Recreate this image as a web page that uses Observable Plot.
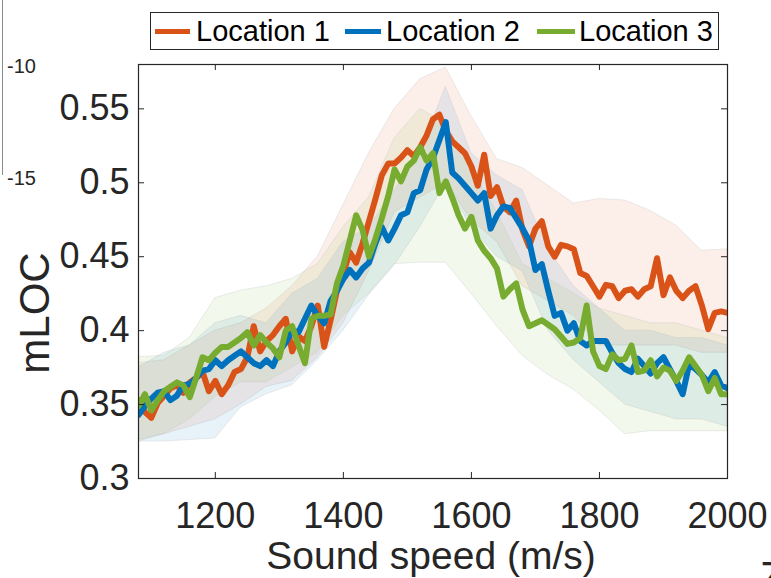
<!DOCTYPE html>
<html><head><meta charset="utf-8">
<script src="https://cdn.jsdelivr.net/npm/d3@7"></script>
<script src="https://cdn.jsdelivr.net/npm/@observablehq/plot@0.6"></script>
<style>
html,body{margin:0;padding:0;background:#fff;}
#wrap{position:relative;width:771px;height:578px;overflow:hidden;font-family:"Liberation Sans",Arial,sans-serif;color:#262626;}
#wrap svg{position:absolute;left:0;top:0;}
.abs{position:absolute;white-space:nowrap;}
.sw{position:absolute;height:5px;}
.lt{position:absolute;font-size:29px;line-height:29px;color:#000;white-space:nowrap;}
</style></head><body><div id="wrap"></div>
<script>
// ---------- data ----------
const names = ["Location 1", "Location 2", "Location 3"];
const colors = ["#D95319", "#0072BD", "#77AC30"];
const xTicks = [1200, 1400, 1600, 1800, 2000];
const yTicks = [0.3, 0.35, 0.4, 0.45, 0.5, 0.55];
const xLabel = "Sound speed (m/s)";
const yLabel = "mLOC";

const speeds = [1080,1090,1100,1110,1120,1130,1140,1150,1160,1170,
1180,1190,1200,1210,1220,1230,1240,1250,1260,1270,
1280,1290,1300,1310,1320,1330,1340,1350,1360,1370,
1380,1390,1400,1410,1420,1430,1440,1450,1460,1470,
1480,1490,1500,1510,1520,1530,1540,1550,1560,1570,
1580,1590,1600,1610,1620,1630,1640,1650,1660,1670,
1680,1690,1700,1710,1720,1730,1740,1750,1760,1770,
1780,1790,1800,1810,1820,1830,1840,1850,1860,1870,
1880,1890,1900,1910,1920,1930,1940,1950,1960,1970,
1980,1990,2000];

const loc1 = [.353,.345,.341,.351,.356,.361,.363,.358,.365,.368,
.372,.359,.366,.357,.363,.372,.374,.382,.403,.386,
.393,.397,.403,.408,.386,.396,.393,.403,.417,.389,
.407,.427,.439,.453,.446,.459,.474,.489,.505,.513,
.513,.517,.522,.518,.524,.532,.543,.546,.535,.528,
.524,.520,.511,.498,.519,.491,.497,.484,.480,.488,
.468,.457,.469,.474,.457,.450,.458,.457,.455,.439,
.437,.430,.423,.431,.430,.422,.427,.428,.423,.428,
.430,.449,.424,.436,.427,.422,.427,.430,.417,.401,
.412,.413,.412];

const loc2 = [.343,.349,.354,.358,.359,.353,.356,.363,.364,.368,
.373,.374,.380,.376,.380,.383,.386,.382,.378,.376,
.380,.376,.386,.392,.400,.399,.408,.417,.410,.405,
.420,.427,.435,.441,.436,.442,.446,.459,.470,.461,
.469,.478,.480,.493,.495,.509,.517,.529,.541,.507,
.503,.498,.493,.488,.493,.469,.478,.484,.483,.476,
.469,.461,.441,.445,.427,.410,.412,.400,.405,.393,
.390,.393,.393,.393,.385,.378,.374,.372,.381,.376,
.371,.378,.382,.374,.366,.357,.377,.374,.370,.365,
.372,.363,.361];

const loc3 = [.349,.357,.346,.353,.359,.362,.365,.363,.355,.368,
.382,.380,.385,.389,.389,.392,.395,.399,.390,.397,
.392,.388,.382,.400,.403,.390,.378,.408,.410,.410,
.411,.432,.444,.461,.478,.468,.450,.462,.476,.491,
.509,.501,.511,.515,.524,.515,.520,.493,.501,.490,
.478,.469,.477,.461,.454,.449,.442,.423,.428,.432,
.414,.403,.405,.407,.404,.401,.396,.391,.392,.395,
.417,.386,.376,.374,.384,.380,.381,.390,.372,.373,
.380,.369,.375,.373,.366,.373,.382,.376,.370,.359,
.368,.357,.357];

const bandSpeeds = [1080,1120,1160,1200,1240,1280,1320,1360,1400,1440,1480,1520,1560,1600,1640,1680,1720,1760,1800,1840,1880,1920,1960,2000];
const band1Upper = [.378,.380,.390,.400,.405,.415,.430,.450,.485,.520,.550,.570,.578,.545,.516,.510,.498,.486,.489,.488,.481,.471,.454,.455];
const band1Lower = [.326,.330,.335,.340,.350,.362,.366,.382,.405,.440,.480,.490,.500,.475,.460,.430,.420,.410,.390,.390,.390,.390,.385,.385];
const band2Upper = [.375,.385,.390,.405,.410,.405,.425,.435,.460,.470,.495,.520,.565,.520,.505,.495,.455,.430,.415,.400,.400,.395,.395,.390];
const band2Lower = [.325,.325,.326,.327,.348,.357,.363,.380,.400,.424,.444,.470,.500,.470,.450,.440,.400,.380,.365,.350,.345,.340,.340,.335];
const band3Upper = [.382,.383,.395,.422,.427,.430,.435,.445,.470,.490,.530,.550,.540,.510,.480,.445,.435,.425,.415,.410,.405,.405,.400,.395];
const band3Lower = [.325,.330,.340,.355,.365,.365,.375,.385,.410,.425,.445,.446,.446,.425,.403,.383,.370,.360,.346,.330,.332,.332,.332,.332];

// ---------- build tables ----------
const series = [loc1, loc2, loc3];
const bandsU = [band1Upper, band2Upper, band3Upper];
const bandsL = [band1Lower, band2Lower, band3Lower];
const rows = [];
series.forEach((s, i) => speeds.forEach((x, j) => rows.push({series: names[i], x, y: s[j]})));
const bandRows = [];
bandsU.forEach((u, i) => bandSpeeds.forEach((x, j) => bandRows.push({series: names[i], x, lo: bandsL[i][j], hi: u[j]})));

const W = 771, H = 578, mL = 138, mR = 44, mT = 64, mB = 100;
const plotW = W - mL - mR, plotH = H - mT - mB;
const axisColor = "#262626";

const chart = Plot.plot({
  width: W, height: H,
  marginLeft: mL, marginRight: mR, marginTop: mT, marginBottom: mB,
  style: {fontFamily: "'Liberation Sans', Arial, sans-serif", color: axisColor, background: "transparent", overflow: "visible"},
  x: {domain: [1080, 2000]},
  y: {domain: [0.3, 0.58]},
  color: {domain: names, range: colors},
  marks: [
    Plot.areaY(bandRows, {x: "x", y1: "lo", y2: "hi", z: "series", fill: "series", fillOpacity: 0.09,
      stroke: "#c4c4c4", strokeOpacity: 0.4, strokeWidth: 0.8, clip: true}),
    Plot.lineY(rows, {x: "x", y: "y", z: "series", stroke: "series", strokeWidth: 6, clip: true}),
    Plot.frame({stroke: axisColor, strokeWidth: 1.2}),
    Plot.tickX(xTicks, {x: d => d, stroke: axisColor, strokeWidth: 1, insetTop: plotH - 6}),
    Plot.tickX(xTicks, {x: d => d, stroke: axisColor, strokeWidth: 1, insetBottom: plotH - 6}),
    Plot.tickY(yTicks, {y: d => d, stroke: axisColor, strokeWidth: 1, insetRight: plotW - 6}),
    Plot.tickY(yTicks, {y: d => d, stroke: axisColor, strokeWidth: 1, insetLeft: plotW - 6}),
    Plot.axisX(xTicks, {tickSize: 0, tickPadding: 24, fontSize: 36, label: null, tickFormat: d => String(d)}),
    Plot.axisY(yTicks, {tickSize: 0, tickPadding: 9, fontSize: 36, label: null, tickFormat: d => String(d)})
  ]
});
const wrap = document.getElementById("wrap");
wrap.appendChild(chart);

function add(html) { wrap.insertAdjacentHTML("beforeend", html); }

// ---------- axis titles ----------
add(`<div class="abs" style="left:131px;top:544px;width:600px;text-align:center;font-size:39px;line-height:24px;color:#262626;">${xLabel}</div>`);
add(`<div class="abs" style="left:-65px;top:292px;width:200px;height:42px;text-align:center;font-size:42px;line-height:42px;color:#262626;transform:rotate(-90deg);transform-origin:100px 21px;">${yLabel}</div>`);

// ---------- legend (above plot area) ----------
add(`<div class="abs" style="left:150px;top:12px;width:567px;height:36px;border:1px solid #262626;background:#fff;"></div>`);
const legendPos = [[155, 190, 196], [345, 381, 386], [537, 575, 579]];
names.forEach((n, i) => {
  const [s0, s1, tx] = legendPos[i];
  add(`<div class="sw" style="left:${s0}px;top:29px;width:${s1 - s0}px;background:${colors[i]};"></div>`);
  add(`<div class="lt" style="left:${tx}px;top:17px;">${n}</div>`);
});

// ---------- leftover fragments visible at the image edges ----------
add(`<div class="abs" style="left:2px;top:0;width:1px;height:175px;background:#8a8a8a;"></div>`);
add(`<div class="abs" style="left:7px;top:56px;font-size:20px;line-height:20px;color:#262626;">-10</div>`);
add(`<div class="abs" style="left:7px;top:168px;font-size:20px;line-height:20px;color:#262626;">-15</div>`);
add(`<div class="abs" style="left:760px;top:556px;font-size:40px;line-height:40px;color:#262626;">Z</div>`);
</script></body></html>
